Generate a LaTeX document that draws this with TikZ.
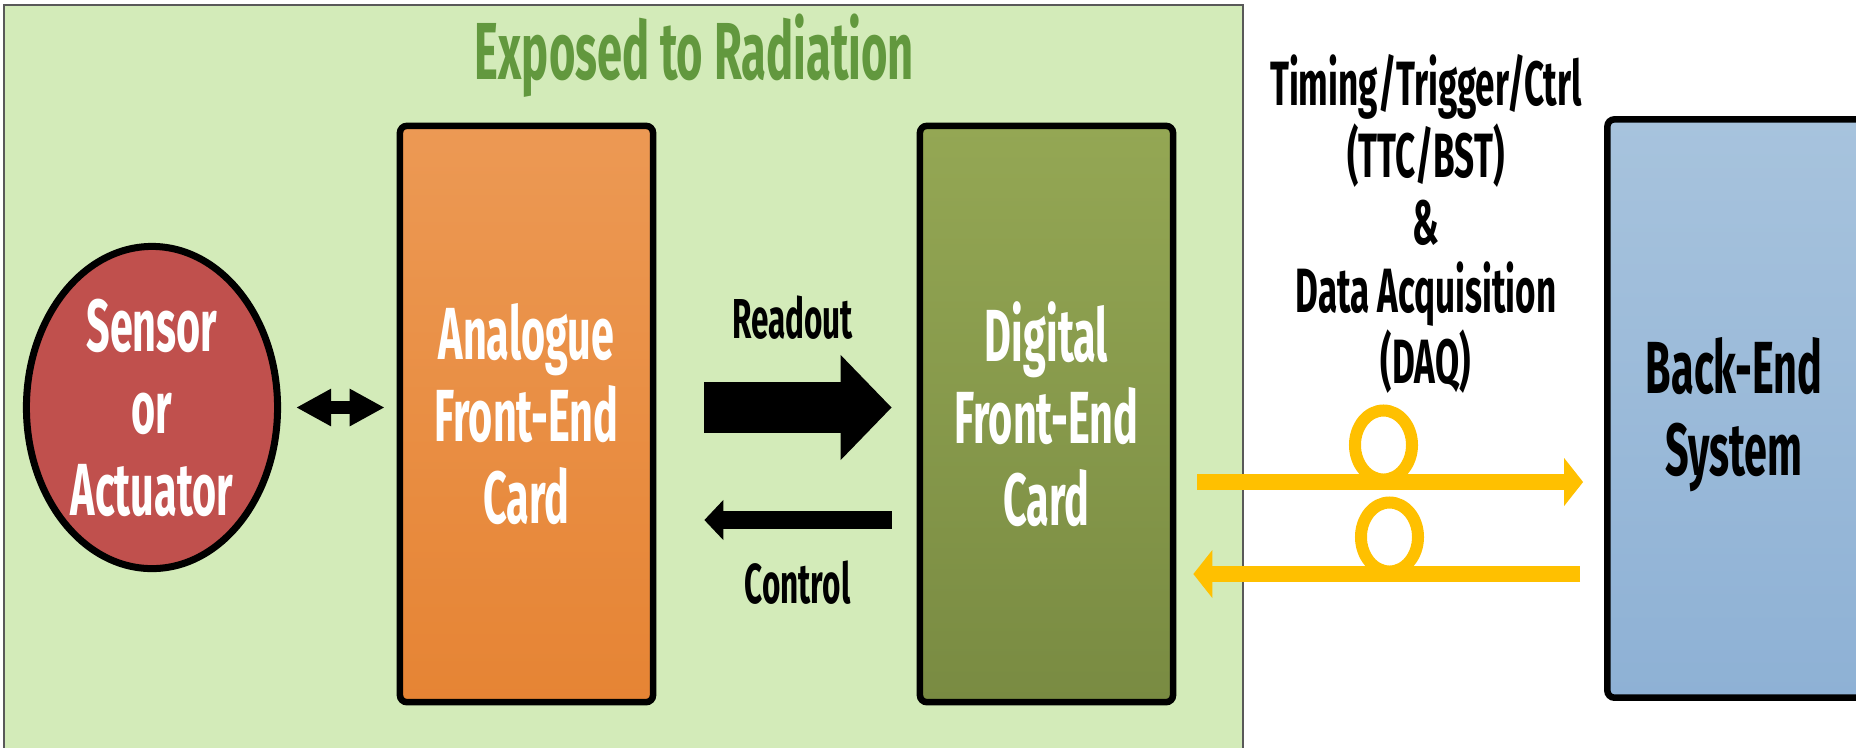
\documentclass[tikz,border=0pt]{standalone}
\usepackage{fontspec}
\newfontfamily\agency[FakeStretch=0.56]{Fira Sans}
\usetikzlibrary{arrows.meta,positioning,shapes.geometric}
\definecolor{radgreen}{RGB}{211,235,185}
\definecolor{radtitle}{RGB}{98,152,62}
\definecolor{sensred}{RGB}{192,80,77}
\definecolor{afetop}{RGB}{236,153,84}
\definecolor{afebot}{RGB}{230,132,52}
\definecolor{dfetop}{RGB}{148,167,84}
\definecolor{dfebot}{RGB}{121,139,66}
\definecolor{bestop}{RGB}{167,195,221}
\definecolor{besbot}{RGB}{142,177,213}
\definecolor{fibre}{RGB}{255,192,0}
\tikzset{
  zone/.style    = {draw=gray!70!black, line width=0.15mm, fill=radgreen},
  bigtxt/.style  = {font=\agency\bfseries\fontsize{21pt}{23.3pt}\selectfont, align=center},
  smalltxt/.style= {font=\agency\bfseries\fontsize{17.8pt}{19.2pt}\selectfont, align=center},
  arrtxt/.style  = {font=\agency\bfseries\fontsize{16pt}{19pt}\selectfont},
  card/.style    = {draw, line width=0.65mm, rounded corners=2pt, minimum width=25.3mm,
                    minimum height=57.6mm, inner sep=0pt, bigtxt, text=white},
  sensor/.style  = {ellipse, draw, line width=0.7mm, fill=sensred, minimum width=25.1mm,
                    minimum height=32.2mm, inner sep=0pt, bigtxt, text=white},
  ring/.style    = {ellipse, draw=fibre, line width=1.2mm, minimum width=5.7mm,
                    minimum height=6.9mm, inner sep=0pt},
  pair/.style    = {line width=1.3mm, {Triangle[length=3.5mm,width=3.5mm]}-{Triangle[length=3.5mm,width=3.5mm]}},
  fat/.style     = {line width=5.1mm, -{Triangle[length=5.1mm,width=10.2mm]}},
  thin/.style    = {line width=1.8mm, -{Triangle[length=1.9mm,width=3.9mm]}},
  fibrearr/.style= {draw=fibre, line width=1.6mm, -{Triangle[length=1.9mm,width=4.7mm]}},
}
\begin{document}
\begin{tikzpicture}[x=0.01cm,y=-0.01cm]
  \useasboundingbox (0,0) rectangle (1856,747);
  \clip (0,0) rectangle (1856,747);
  % radiation area
  \draw[zone] (4,5) rectangle (1243,760);
  \node[bigtxt, font=\agency\bfseries\fontsize{23pt}{26pt}\selectfont, text=radtitle, anchor=base]
    (title) at (694.5,79) {Exposed to Radiation};
  % sensor, cards and back-end
  \node[sensor] (sensor) at (152,407.5) {Sensor\\or\\Actuator};
  \node[card, top color=afetop, bottom color=afebot] (afe) at (526.5,414) {Analogue\\Front-End\\Card};
  \node[card, top color=dfetop, bottom color=dfebot] (dfe) at (1046.5,414) {Digital\\Front-End\\Card};
  \node[card, minimum width=40mm, minimum height=57.8mm,
        top color=bestop, bottom color=besbot] (bes) at (1807.5,408.5) {};
  \node[bigtxt] (bestxt) at (1734,415) {Back-End\\System};
  % rows of the links
  \coordinate (readrow) at (0,407.5);
  \coordinate (ctrlrow) at (0,520);
  \coordinate (ttcrow) at (0,482);
  \coordinate (daqrow) at (0,574);
  % links inside the area
  \draw[pair, shorten <=1.5mm, shorten >=1.2mm] (sensor.east) -- (sensor.east -| afe.west);
  \draw[fat, shorten <=4.8mm, shorten >=2.5mm] (afe.east |- readrow) -- (dfe.west |- readrow);
  \draw[thin, shorten <=2.5mm, shorten >=4.8mm] (dfe.west |- ctrlrow) -- (afe.east |- ctrlrow);
  \node[arrtxt, anchor=base] (readlbl) at (792.5,338) {Readout};
  \node[arrtxt, anchor=base] (ctrllbl) at (797.5,603) {Control};
  % optical links to the back-end
  \node[ring] (ttcloop) at (1383.5,445) {};
  \node[ring] (daqloop) at (1389.5,537) {};
  \draw[fibrearr, shorten <=2.1mm, shorten >=2.1mm] (dfe.east |- ttcrow) -- (bes.west |- ttcrow);
  \draw[fibrearr, shorten <=2.4mm, shorten >=1.7mm] (bes.west |- daqrow) -- (dfe.east |- daqrow);
  \node[smalltxt] (linklbl) at (1426,224) {Timing/Trigger/Ctrl\\(TTC/BST)\\\&\\Data Acquisition\\(DAQ)};
\end{tikzpicture}
\end{document}
